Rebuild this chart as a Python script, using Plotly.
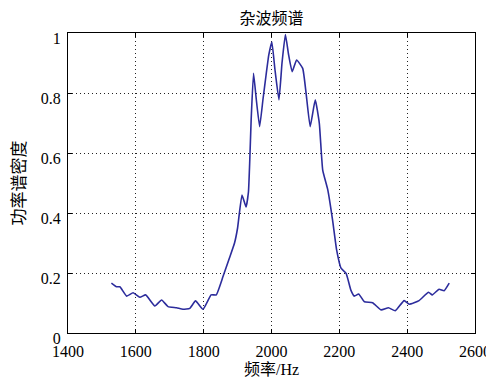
import plotly.graph_objects as go

freq = [1528, 1543, 1553, 1573, 1592, 1612, 1629, 1656, 1676, 1695, 1720, 1739, 1759, 1776, 1798,
        1822, 1837, 1857, 1876, 1891, 1900, 1913, 1925, 1932, 1936, 1940, 1947, 1955, 1965, 1975,
        1984, 1992, 2001, 2010, 2022, 2031, 2041, 2050, 2061, 2074, 2092, 2102, 2114, 2129, 2141,
        2151, 2166, 2180, 2192, 2205, 2220, 2234, 2244, 2257, 2274, 2298, 2323, 2345, 2365, 2391,
        2406, 2435, 2463, 2474, 2494, 2509, 2524]
power = [0.166, 0.154, 0.154, 0.123, 0.134, 0.119, 0.127, 0.090, 0.110, 0.088, 0.084, 0.079, 0.082, 0.107, 0.079,
         0.127, 0.127, 0.188, 0.250, 0.300, 0.350, 0.460, 0.420, 0.470, 0.577, 0.710, 0.866, 0.780, 0.688, 0.780,
         0.860, 0.927, 0.970, 0.880, 0.777, 0.900, 0.995, 0.930, 0.871, 0.910, 0.882, 0.799, 0.688, 0.777, 0.699,
         0.543, 0.477, 0.377, 0.277, 0.216, 0.199, 0.143, 0.123, 0.130, 0.104, 0.101, 0.077, 0.084, 0.074, 0.108,
         0.096, 0.108, 0.136, 0.127, 0.146, 0.141, 0.166]

x_ticks = [1400, 1600, 1800, 2000, 2200, 2400, 2600]
y_ticks = [0, 0.2, 0.4, 0.6, 0.8, 1]
y_tick_labels = ["0", "0.2", "0.4", "0.6", "0.8", "1"]

serif = "Liberation Serif, Times New Roman, DejaVu Serif, serif"
cjk = "Liberation Serif, Noto Sans CJK SC, serif"

fig = go.Figure()
fig.add_trace(go.Scatter(x=freq, y=power, mode="lines",
                         line=dict(color="#2c2c9c", width=1.6, shape="spline", smoothing=0.4),
                         showlegend=False))

axis_common = dict(showline=True, linecolor="black", linewidth=1, mirror="ticks",
                   ticks="inside", ticklen=4, tickcolor="black", automargin=False,
                   showgrid=True, gridcolor="#222222", gridwidth=1, griddash="1px,3px",
                   zeroline=False, tickfont=dict(family=serif, size=16, color="black"))

# the page body adds an 8px offset, so the figure is sized/placed to compensate
fig.update_layout(
    width=486, height=369,
    margin=dict(l=60, r=19, t=25, b=44, autoexpand=False),
    paper_bgcolor="white", plot_bgcolor="white",
    title=dict(text="杂波频谱", x=0.5, xref="paper", xanchor="center", y=0.973, yref="container",
               yanchor="middle", automargin=False, font=dict(family=cjk, size=16, color="black")),
    xaxis=dict(range=[1400, 2600], tickvals=x_ticks, ticktext=[str(v) for v in x_ticks],
               ticklabelstandoff=4, **axis_common),
    yaxis=dict(range=[0, 1], tickvals=y_ticks, ticktext=y_tick_labels,
               ticklabelshift=5, ticklabelstandoff=3,
               title=dict(text="功率谱密度", font=dict(family=cjk, size=17, color="black"), standoff=10),
               **axis_common),
    annotations=[dict(text="频率/Hz", xref="paper", yref="paper", x=0.5, y=-0.12,
                      xanchor="center", yanchor="middle", showarrow=False,
                      font=dict(family=cjk, size=16, color="black"))],
)

fig.write_html("out.html")
